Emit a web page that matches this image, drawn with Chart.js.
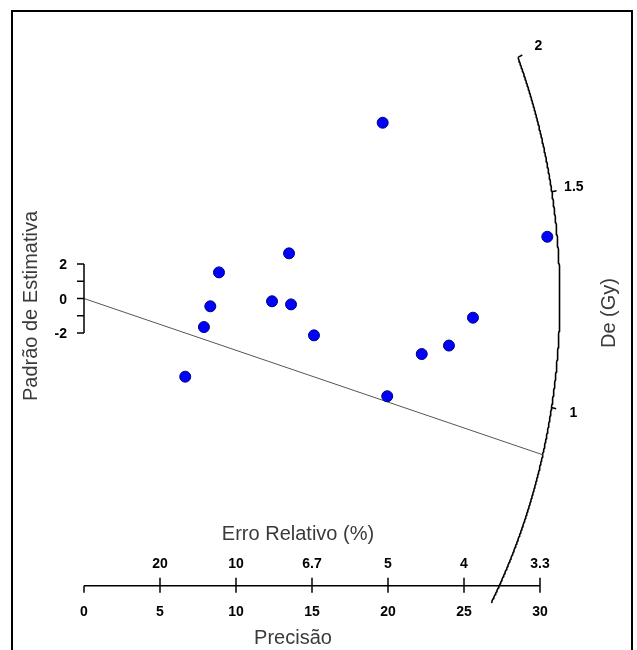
<!DOCTYPE html>
<html>
<head>
<meta charset="utf-8">
<script src="https://cdn.jsdelivr.net/npm/chart.js@4/dist/chart.umd.min.js"></script>
<style>
  body { margin: 0; background: #fff; }
  #wrap { width: 637px; height: 650px; }
</style>
</head>
<body>
<div id="wrap"><canvas id="radial" width="637" height="650"></canvas></div>
<script>
// precision (1/se) and standardised estimate of each aliquot
const precision = [19.65, 30.48, 13.49, 8.88, 8.31, 12.37, 13.62, 7.89, 25.59, 15.13, 24.01, 22.22, 6.66, 19.95];
const stdEstimate = [10.16, 3.57, 2.61, 1.51, -0.45, -0.16, -0.34, -1.65, -1.11, -2.13, -2.72, -3.21, -4.52, -5.65];

// axis ticks
const precisionTicks = [0, 5, 10, 15, 20, 25, 30];
const relErrorLabels = ["", "20", "10", "6.7", "5", "4", "3.3"];
const stdTicks = [-2, -1, 0, 1, 2];
const stdLabels = ["-2", "", "0", "", "2"];
const deTicks = [1, 1.5, 2];
const deLabels = ["1", "1.5", "2"];

const centralLogDe = 0.205; // ln of the central De
const lineDe = 0.91; // De of the drawn line
const arcRange = [0.637, 2]; // De range covered by the arc

// layout (data units of the two scales)
const arcRx = 31.3;
const arcRy = 34.0;
const bottomAxisY = -16.6;
const FONT = "'Liberation Sans', Arial, sans-serif";

// point on the De arc for a given De
function arcPoint(de, k) {
  const s = Math.log(de) - centralLogDe;
  const X = 1 / Math.sqrt(1 / (arcRx * arcRx) + (s * s) / (arcRy * arcRy));
  return { x: X * k, y: s * X * k };
}

const arcData = [];
for (let i = 0; i <= 300; i++) {
  const lde = Math.log(arcRange[0]) + (Math.log(arcRange[1]) - Math.log(arcRange[0])) * i / 300;
  arcData.push(arcPoint(Math.exp(lde), 1));
}

const radialDecor = {
  id: "radialDecor",
  afterDraw(chart) {
    const { ctx, scales: { x, y } } = chart;
    ctx.save();

    // outer frame
    ctx.strokeStyle = "#000";
    ctx.lineWidth = 2;
    ctx.strokeRect(12, 11, 620, 700);

    ctx.lineWidth = 1.5;
    ctx.fillStyle = "#000";

    // y axis (standardised estimate)
    const x0 = x.getPixelForValue(0);
    ctx.beginPath();
    ctx.moveTo(x0, y.getPixelForValue(stdTicks[0]));
    ctx.lineTo(x0, y.getPixelForValue(stdTicks[stdTicks.length - 1]));
    stdTicks.forEach((t) => {
      const py = y.getPixelForValue(t);
      ctx.moveTo(x0, py);
      ctx.lineTo(x0 - 7, py);
    });
    ctx.stroke();
    ctx.font = "bold 14px " + FONT;
    ctx.textAlign = "right";
    ctx.textBaseline = "middle";
    stdTicks.forEach((t, i) => {
      if (stdLabels[i]) ctx.fillText(stdLabels[i], 67, y.getPixelForValue(t) + 1.5);
    });

    // bottom axis: precision below, relative error above
    const ay = y.getPixelForValue(bottomAxisY);
    ctx.beginPath();
    ctx.moveTo(x.getPixelForValue(precisionTicks[0]), ay);
    ctx.lineTo(x.getPixelForValue(precisionTicks[precisionTicks.length - 1]), ay);
    precisionTicks.forEach((t, i) => {
      const px = x.getPixelForValue(t);
      ctx.moveTo(px, ay);
      ctx.lineTo(px, ay + 7);
      if (relErrorLabels[i]) {
        ctx.moveTo(px, ay);
        ctx.lineTo(px, ay - 8);
      }
    });
    ctx.stroke();
    ctx.textAlign = "center";
    precisionTicks.forEach((t, i) => {
      const px = x.getPixelForValue(t);
      ctx.fillText(String(t), px, ay + 26);
      if (relErrorLabels[i]) ctx.fillText(relErrorLabels[i], px, ay - 22);
    });

    // De arc ticks and labels
    ctx.beginPath();
    deTicks.forEach((d) => {
      const a = arcPoint(d, 1);
      const b = arcPoint(d, 1.01);
      ctx.moveTo(x.getPixelForValue(a.x), y.getPixelForValue(a.y));
      ctx.lineTo(x.getPixelForValue(b.x), y.getPixelForValue(b.y));
    });
    ctx.stroke();
    deTicks.forEach((d, i) => {
      const c = arcPoint(d, 1.047);
      ctx.fillText(deLabels[i], x.getPixelForValue(c.x), y.getPixelForValue(c.y));
    });

    // titles
    ctx.fillStyle = "#3a3a3a";
    ctx.font = "20px " + FONT;
    ctx.fillText("Erro Relativo (%)", 298, 534);
    ctx.fillText("Precisão", 293, 638);
    ctx.save();
    ctx.translate(31, 306);
    ctx.rotate(-Math.PI / 2);
    ctx.fillText("Padrão de Estimativa", 0, 0);
    ctx.restore();
    ctx.save();
    ctx.translate(609, 313);
    ctx.rotate(-Math.PI / 2);
    ctx.fillText("De (Gy)", 0, 0);
    ctx.restore();

    ctx.restore();
  }
};

const lineEnd = arcPoint(lineDe, 1);

new Chart(document.getElementById("radial"), {
  type: "scatter",
  data: {
    datasets: [
      {
        label: "Aliquots",
        data: precision.map((p, i) => ({ x: p, y: stdEstimate[i] })),
        backgroundColor: "#0000ff",
        borderColor: "#00007a",
        borderWidth: 1,
        pointRadius: 5.5
      },
      {
        label: "De line",
        data: [{ x: 0, y: 0 }, lineEnd],
        showLine: true,
        borderColor: "#555",
        borderWidth: 1,
        pointRadius: 0
      },
      {
        label: "De arc",
        data: arcData,
        showLine: true,
        borderColor: "#000",
        borderWidth: 1.6,
        borderJoinStyle: "round",
        pointRadius: 0
      }
    ]
  },
  options: {
    responsive: false,
    animation: false,
    events: [],
    layout: { padding: 0, autoPadding: false },
    plugins: { legend: { display: false }, tooltip: { enabled: false } },
    scales: {
      x: { type: "linear", display: false, min: -84 / 15.2, max: 553 / 15.2 },
      y: { type: "linear", display: false, min: -351.5 / 17.3, max: 298.5 / 17.3 }
    }
  },
  plugins: [radialDecor]
});
</script>
</body>
</html>
